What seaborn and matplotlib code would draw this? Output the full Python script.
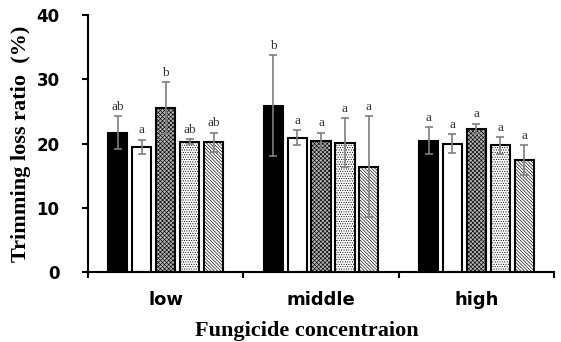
import matplotlib
matplotlib.use('Agg')
import matplotlib.pyplot as plt
import numpy as np
import pandas as pd
import seaborn as sns

concentrations = ['low', 'middle', 'high']
treatments = ['T1', 'T2', 'T3', 'T4', 'T5']

mean_low = [21.7, 19.5, 25.5, 20.3, 20.2]
mean_middle = [25.9, 20.9, 20.4, 20.1, 16.4]
mean_high = [20.4, 20.0, 22.3, 19.7, 17.4]

err_low = [2.6, 1.1, 4.0, 0.4, 1.5]
err_middle = [7.9, 1.2, 1.3, 3.8, 7.9]
err_high = [2.1, 1.5, 0.8, 1.3, 2.3]

letters_low = ['ab', 'a', 'b', 'ab', 'ab']
letters_middle = ['b', 'a', 'a', 'a', 'a']
letters_high = ['a', 'a', 'a', 'a', 'a']

y_ticks = [0, 10, 20, 30, 40]

means = [mean_low, mean_middle, mean_high]
errs = [err_low, err_middle, err_high]
letters = [letters_low, letters_middle, letters_high]

rows = []
for c, m in zip(concentrations, means):
    for t, v in zip(treatments, m):
        rows.append({'conc': c, 'treatment': t, 'value': v})
df = pd.DataFrame(rows)

sns.set_theme(style='ticks')
plt.rcParams['font.family'] = ['DejaVu Sans']
plt.rcParams['hatch.linewidth'] = 0.45
plt.rcParams['hatch.color'] = 'black'

fig = plt.figure(figsize=(5.61, 3.42), dpi=100)
ax = fig.add_axes([0.157, 0.2047, 0.8305, 0.7513])

colors = ['black', 'white', '#b4b4b4', 'white', 'white']
hatches = ['', '', 'x' * 8, '.' * 7, '\\' * 10]

sns.barplot(data=df, x='conc', y='value', hue='treatment', order=concentrations,
            hue_order=treatments, palette=colors, width=0.77, gap=0.2,
            errorbar=None, legend=False, edgecolor='black', linewidth=1.5,
            saturation=1, ax=ax)

serif = 'Liberation Serif'
bar_containers = list(ax.containers)
for i, cont in enumerate(bar_containers):
    for j, bar in enumerate(cont):
        bar.set_hatch(hatches[i])
        bar.set_edgecolor('black')
        x = bar.get_x() + bar.get_width() / 2
        h = bar.get_height()
        e = errs[j][i]
        ax.errorbar(x, h, yerr=e, color='#7f7f7f', capsize=3, elinewidth=1.2,
                    capthick=1.2, zorder=4)
        ax.text(x, h + e + 0.5, letters[j][i], ha='center', va='bottom',
                fontsize=9.5, family=serif, color='#333333')

ax.set_ylim(0, 40)
ax.set_yticks(y_ticks)
ax.set_xlim(-0.5, 2.5)
ax.set_xticks(range(len(concentrations)))
ax.set_xticklabels(concentrations, fontweight='bold')
ax.set_xticks([-0.5, 0.5, 1.5, 2.5], minor=True)
for lab in ax.get_yticklabels():
    lab.set_fontweight('bold')

sns.despine(ax=ax)
for s in ['left', 'bottom']:
    ax.spines[s].set_linewidth(1.5)
    ax.spines[s].set_color('black')

ax.tick_params(axis='y', direction='out', length=4.5, width=1.5, pad=16,
               labelsize=12, colors='black')
ax.tick_params(axis='x', which='major', length=0, pad=14, labelsize=13,
               colors='black')
ax.tick_params(axis='x', which='minor', direction='out', length=4, width=1.5,
               color='black')

ax.set_xlabel('Fungicide concentraion', family=serif, fontweight='bold',
              fontsize=16, color='black')
ax.set_ylabel('Trimming loss ratio  (%)', family=serif, fontweight='bold',
              fontsize=16, color='black', labelpad=4)
ax.xaxis.set_label_coords(0.47, -0.19)

fig.savefig('out.png', dpi=100)
